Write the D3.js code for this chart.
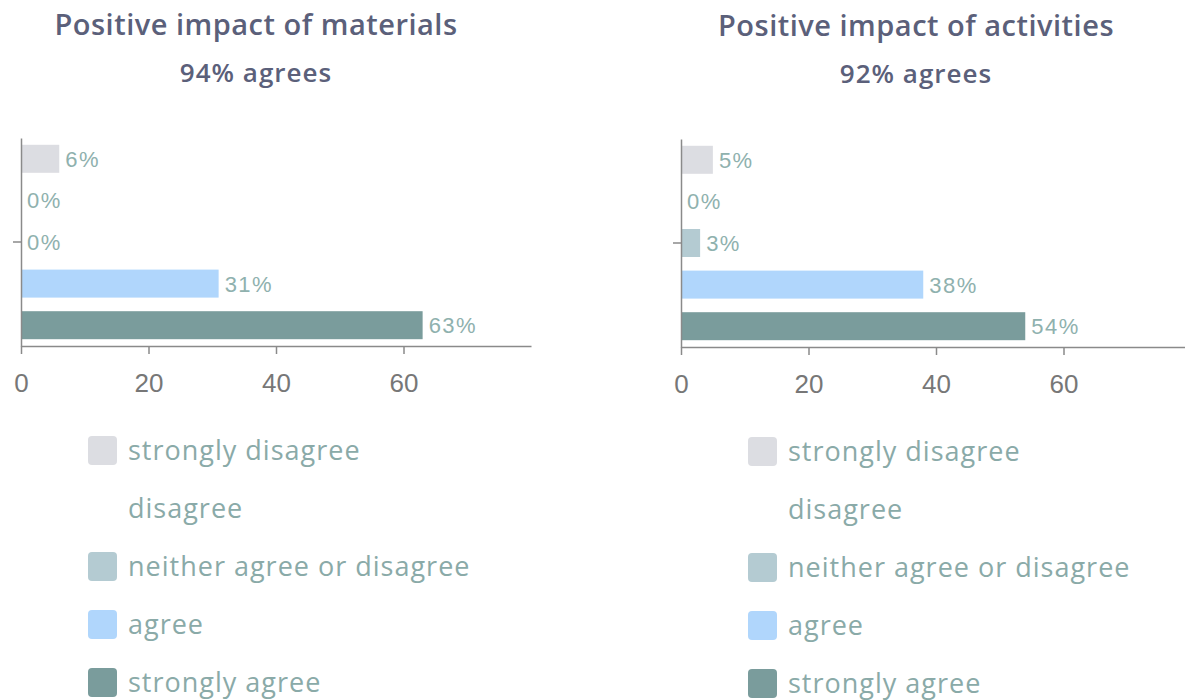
<!DOCTYPE html>
<html>
<head>
<meta charset="utf-8">
<script src="https://cdn.jsdelivr.net/npm/d3@7"></script>
<style>
  body { margin: 0; background: #fff; }
  .axis path, .axis line { stroke: #8a8a8a; stroke-width: 1.5; }
  .axis text { fill: #777; font-family: "Liberation Sans", Arial, sans-serif; font-size: 26px; }
</style>
</head>
<body>
<div id="chart"></div>
<script>
const categories = ["strongly disagree", "disagree", "neither agree or disagree", "agree", "strongly agree"];
const materialsValues = [6, 0, 0, 31, 63];
const activitiesValues = [5, 0, 3, 38, 54];
const xTicks = [0, 20, 40, 60];
const panelTitles = ["Positive impact of materials", "Positive impact of activities"];
const panelSubtitles = ["94% agrees", "92% agrees"];
const barColors = ["#dcdde2", "none", "#b4cbd2", "#b0d6fc", "#7a9c9c"];

const svg = d3.select("#chart")
  .append("svg")
  .attr("width", 1185)
  .attr("height", 700);

function drawPanel(offsetX, offsetY, title, subtitle, values) {
  const margin = { top: 138, left: 21 };
  const width = 510;
  const height = 208;

  const panel = svg.append("g")
    .attr("transform", `translate(${offsetX},${offsetY})`);

  panel.append("text")
    .attr("x", 256)
    .attr("y", 35)
    .attr("text-anchor", "middle")
    .style("font-family", "Open Sans, sans-serif")
    .style("font-weight", 600)
    .style("font-size", "29px")
    .style("letter-spacing", "0.5px")
    .style("fill", "#5b607a")
    .text(title);

  panel.append("text")
    .attr("x", 256)
    .attr("y", 82)
    .attr("text-anchor", "middle")
    .style("font-family", "Open Sans, sans-serif")
    .style("font-weight", 600)
    .style("font-size", "26px")
    .style("letter-spacing", "1px")
    .style("fill", "#5b607a")
    .text(subtitle);

  const g = panel.append("g")
    .attr("transform", `translate(${margin.left},${margin.top})`);

  const xScale = d3.scaleLinear()
    .domain([0, 80])
    .range([0, width]);

  const yScale = d3.scaleBand()
    .domain(categories)
    .range([0, height])
    .paddingInner(0.327)
    .paddingOuter(0.1635);

  const data = categories.map((c, i) => ({ cat: c, value: values[i], color: barColors[i] }));

  // Bars
  g.selectAll("rect.bar")
    .data(data)
    .enter()
    .append("rect")
    .attr("class", "bar")
    .attr("x", 0)
    .attr("y", d => yScale(d.cat))
    .attr("width", d => xScale(d.value))
    .attr("height", yScale.bandwidth())
    .attr("fill", d => d.color);

  // Value labels
  g.selectAll("text.val")
    .data(data)
    .enter()
    .append("text")
    .attr("class", "val")
    .attr("x", d => xScale(d.value) + 6)
    .attr("y", d => yScale(d.cat) + yScale.bandwidth() / 2)
    .attr("dy", "0.36em")
    .style("font-family", "Liberation Sans, Arial, sans-serif")
    .style("font-size", "22px")
    .style("letter-spacing", "1.5px")
    .style("fill", "#8fb1ae")
    .text(d => d.value + "%");

  // X Axis
  g.append("g")
    .attr("class", "axis")
    .attr("transform", `translate(0, ${height})`)
    .call(d3.axisBottom(xScale).tickValues(xTicks).tickSize(8).tickSizeOuter(0).tickPadding(20));

  // Y Axis (single tick in the middle)
  g.append("g")
    .attr("class", "axis")
    .call(d3.axisLeft(yScale).tickValues([categories[2]]).tickSize(8).tickSizeOuter(0).tickFormat(""));

  // Legend
  const legend = panel.append("g")
    .attr("transform", "translate(88, 436)");

  const rows = legend.selectAll("g")
    .data(data)
    .enter()
    .append("g")
    .attr("transform", (d, i) => `translate(0, ${i * 58})`);

  rows.append("rect")
    .attr("width", 29)
    .attr("height", 29)
    .attr("rx", 4)
    .attr("fill", d => d.color);

  rows.append("text")
    .attr("x", 40)
    .attr("y", 14.5)
    .attr("dy", "0.34em")
    .style("font-family", "Open Sans, sans-serif")
    .style("font-size", "27px")
    .style("letter-spacing", "1px")
    .style("fill", "#8aaaa8")
    .text(d => d.cat);
}

drawPanel(0, 0, panelTitles[0], panelSubtitles[0], materialsValues);
drawPanel(660, 1, panelTitles[1], panelSubtitles[1], activitiesValues);
</script>
</body>
</html>
